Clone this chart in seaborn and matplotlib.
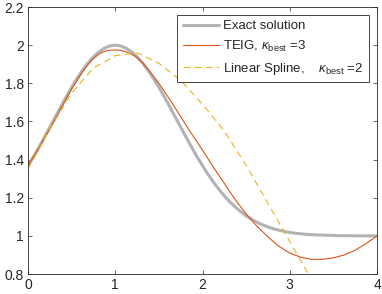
import numpy as np
import pandas as pd
import matplotlib
matplotlib.use("Agg")
import matplotlib.pyplot as plt
import seaborn as sns

# Values
x_exact = [0.0, 0.0625, 0.125, 0.1875, 0.25, 0.3125, 0.375, 0.4375, 0.5, 0.5625,
           0.625, 0.6875, 0.75, 0.8125, 0.875, 0.9375, 1.0, 1.0625, 1.125,
           1.1875, 1.25, 1.3125, 1.375, 1.4375, 1.5, 1.5625, 1.625, 1.6875,
           1.75, 1.8125, 1.875, 1.9375, 2.0, 2.0625, 2.125, 2.1875, 2.25,
           2.3125, 2.375, 2.4375, 2.5, 2.5625, 2.625, 2.6875, 2.75, 2.8125,
           2.875, 2.9375, 3.0, 3.0625, 3.125, 3.1875, 3.25, 3.3125, 3.375,
           3.4375, 3.5, 3.5625, 3.625, 3.6875, 3.75, 3.8125, 3.875, 3.9375, 4.0]
exact = [1.368, 1.415, 1.465, 1.517, 1.570, 1.623, 1.677, 1.729, 1.779, 1.826,
         1.869, 1.907, 1.939, 1.965, 1.984, 1.996, 2.0, 1.996, 1.984, 1.965,
         1.939, 1.907, 1.869, 1.826, 1.779, 1.729, 1.677, 1.623, 1.570, 1.517,
         1.465, 1.415, 1.368, 1.323, 1.282, 1.244, 1.210, 1.179, 1.151, 1.127,
         1.105, 1.087, 1.071, 1.058, 1.047, 1.037, 1.030, 1.023, 1.018, 1.014,
         1.011, 1.008, 1.006, 1.005, 1.004, 1.003, 1.002, 1.001, 1.001, 1.001,
         1.0, 1.0, 1.0, 1.0, 1.0]
x_teig = [0.0, 0.125, 0.25, 0.375, 0.5, 0.625, 0.6875, 0.75, 0.8125, 0.875,
          0.9375, 1.0, 1.0625, 1.125, 1.1875, 1.25, 1.3125, 1.375, 1.5, 1.625,
          1.75, 1.875, 2.0, 2.125, 2.25, 2.375, 2.5, 2.625, 2.75, 2.875, 3.0,
          3.125, 3.25, 3.375, 3.5, 3.625, 3.75, 3.875, 4.0]
teig = [1.37, 1.46, 1.56, 1.665, 1.77, 1.86, 1.898, 1.93, 1.953, 1.968, 1.974,
        1.975, 1.973, 1.965, 1.953, 1.935, 1.908, 1.875, 1.80, 1.715, 1.625,
        1.535, 1.45, 1.36, 1.275, 1.19, 1.115, 1.05, 0.995, 0.945, 0.91, 0.888,
        0.877, 0.877, 0.885, 0.90, 0.925, 0.96, 1.0]
x_spline = [0.0, 0.25, 0.5, 0.75, 1.0, 1.25, 1.5, 1.75, 2.0, 2.25, 2.5, 2.75,
            3.0, 3.25]
spline = [1.35, 1.56, 1.75, 1.88, 1.945, 1.96, 1.905, 1.815, 1.69, 1.55, 1.37,
          1.17, 0.97, 0.77]

labels = ["Exact solution", r"TEIG, $\kappa_{\rm best}$ =3",
          r"Linear Spline,    $\kappa_{\rm best}$ =2"]
xticks = [0, 1, 2, 3, 4]
yticks = [0.8, 1.0, 1.2, 1.4, 1.6, 1.8, 2.0, 2.2]
ytick_labels = ["0.8", "1", "1.2", "1.4", "1.6", "1.8", "2", "2.2"]

sns.set_theme(style="ticks")
plt.rcParams['font.family'] = ['Liberation Sans', 'DejaVu Sans']
plt.rcParams['mathtext.fontset'] = 'custom'
plt.rcParams['mathtext.rm'] = 'Liberation Sans'
plt.rcParams['mathtext.it'] = 'Liberation Sans:italic'

fig = plt.figure(figsize=(3.82, 2.94), dpi=100)
ax = fig.add_axes([0.0733, 0.068, 0.9137, 0.908])

sns.lineplot(x=x_exact, y=exact, ax=ax, color="#b3b3b3", linewidth=2.2,
             label=labels[0])
sns.lineplot(x=x_teig, y=teig, ax=ax, color="#D95319", linewidth=0.8,
             label=labels[1])
sns.lineplot(x=x_spline, y=spline, ax=ax, color="#EDB120", linewidth=0.8,
             linestyle=(0, (6, 4)), label=labels[2])

ax.set_xlim(0, 4)
ax.set_ylim(0.8, 2.2)
ax.set_xticks(xticks)
ax.set_xticklabels([str(t) for t in xticks])
ax.set_yticks(yticks)
ax.set_yticklabels(ytick_labels)
ax.tick_params(direction="in", length=3, width=0.5, colors="#262626",
               labelsize=10, top=True, right=True, pad=3)
for s in ax.spines.values():
    s.set_color("#262626")
    s.set_linewidth(0.6)
ax.set_xlabel("")
ax.set_ylabel("")

leg = ax.legend(loc="upper right", fontsize=9.5, frameon=True, fancybox=False,
                framealpha=1, edgecolor="#262626", handlelength=2.8,
                borderaxespad=0.6, borderpad=0.4, labelspacing=0.5,
                handletextpad=0.3)
leg.get_frame().set_linewidth(0.6)

fig.savefig("out.png", dpi=100)
